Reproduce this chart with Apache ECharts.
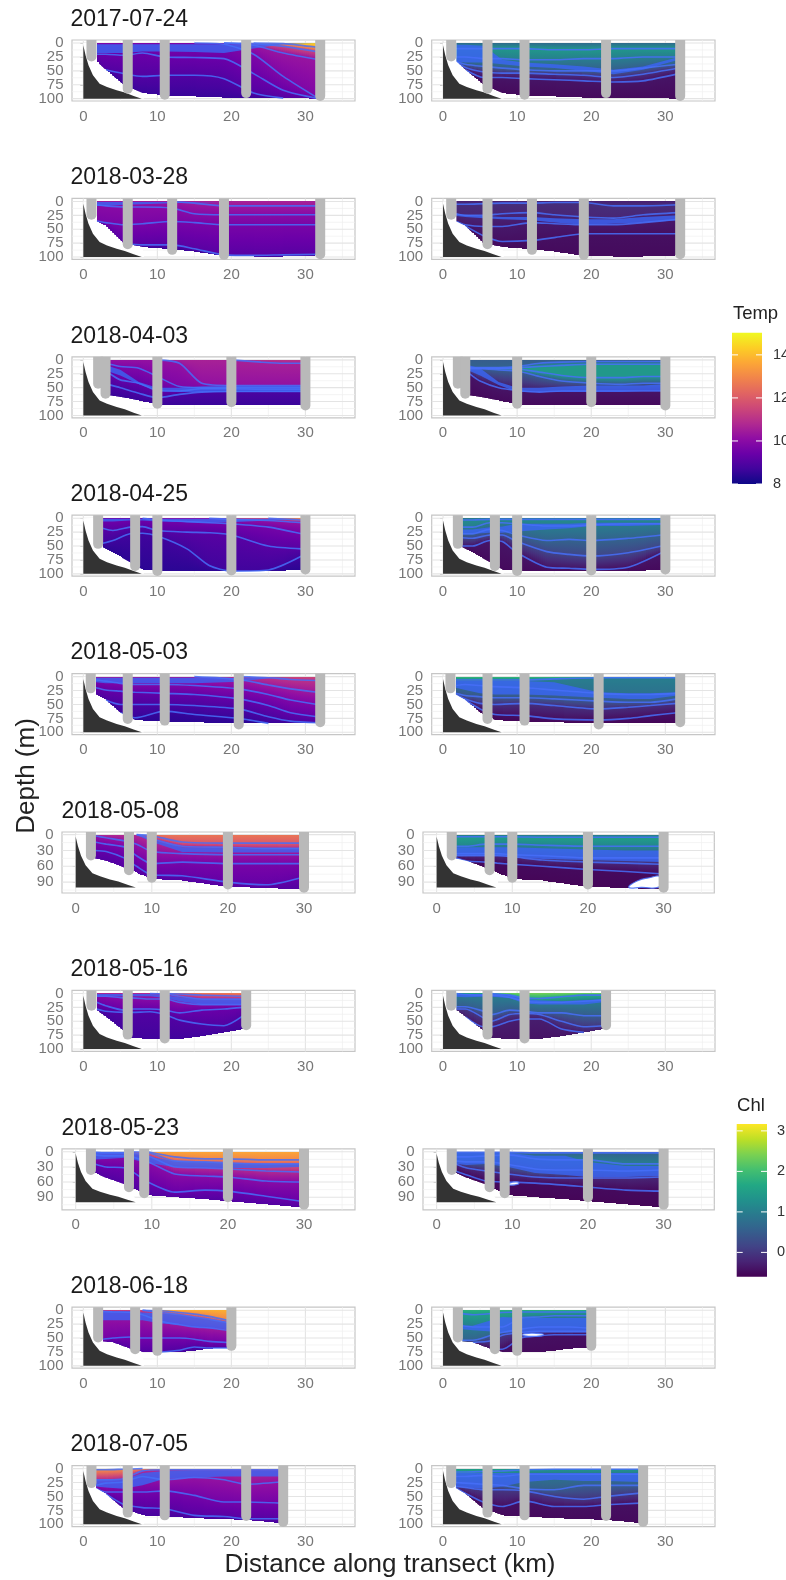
<!DOCTYPE html>
<html><head><meta charset="utf-8">
<style>html,body{margin:0;padding:0;background:#fff}#c{width:786px;height:1580px;filter:blur(0.45px)}</style>
<script src="https://cdn.jsdelivr.net/npm/echarts@6/dist/echarts.min.js"></script>
</head><body><div id="c"></div>
<script>
const dates=['2017-07-24','2018-03-28','2018-04-03','2018-04-25','2018-05-03','2018-05-08','2018-05-16','2018-05-23','2018-06-18','2018-07-05'];
const xTicks=[0,10,20,30], xMinor=[5,15,25,35];
const yTicks25=[0,25,50,75,100], yMinor25=[12.5,37.5,62.5,87.5];
const yTicks30=[0,30,60,90], yMinor30=[15,45,75,105];
const bathyX=[0,0.3,0.7,1.3,2.2,3.2,4.5,5.6,6.8,7.9];
const bathyD=[4,22,40,58,73,79,85,89,95,100];

// stations (grey casts): distance and deepest reading
const st0x=[1.1,6,11,22,32], st0d=[33,91,102,99,104];
const st1x=[1.1,6,12,19,32], st1d=[33,86,96,105,104];
const st2x=[2,3,10,20,30], st2d=[52,70,88,85,91];
const st3x=[2,7,10,20,30], st3d=[55,95,104,103,101];
const st4x=[1,6,11,21,32], st4d=[30,85,88,95,91];
const st5x=[2,7,10,20,30], st5d=[49,77,91,104,110];
const st6x=[1.1,6,11,22], st6d=[31,83,90,66];
const st7x=[2,7,9,20,30], st7d=[46,80,92,100,115];
const st8x=[2,7,10,20], st8d=[58,79,82,73];
const st9x=[1.1,6,11,22,27], st9d=[35,88,93,94,105];

// section columns and the bottom of sampled water
const xs0=[1.8,3,5.5,8,11,15,19,23,27,31.8], bot0=[33,48,76,90,94,96,98,98,99,100];
const xs1=[1.8,3,5.5,8,12,15,19,23,27,31.8], bot1=[36,44,76,82,86,90,98,99,99,97];
const xs2=[3.6,5,7.5,10,13,16,20,24,27,29.6], bot2=[64,67,73,80,82,82,82,82,82,82];
const xs3=[2.6,4,6.3,8,10,14,17,20,25,29.5], bot3=[52,62,79,92,95,95,95,95,95,93];
const xs4=[1.7,3,5,7,11,15,21,25,28,31.6], bot4=[32,42,65,78,81,82,84,84,83,83];
const xs5=[2.5,4,6.5,8,10,14,20,25,29.5], bot5=[45,50,63,72,84,87,99,101,104];
const xs6=[1.8,3,5.5,6.5,9,11,13,16,19,21.6], bot6=[30,42,68,80,82,82,82,77,70,64];
const xs7=[2.5,4,6.5,9.5,13,17,20,25,29.6], bot7=[42,52,65,86,90,94,98,104,110];
const xs8=[2.6,4,6.5,8,10.5,13,15,17,19.5], bot8=[56,58,70,75,75,75,73,69,68];
const xs9=[1.7,3,5.4,8,11,15,19,22,26.6], bot9=[35,45,72,84,86,89,91,92,98];

// temperature: value sequence from surface to bottom, depth of each inner contour, dense contour band
const T0v=[14.5,13.5,11.5,10.3,9.8,9.4,9,8.6];
const T0d=[[0,0,0,0,0,0,0,0,1,8],[0,0,0,0,0,0,0,1,6,16],[0,0,0,0,0,0,0,4,18,30],[0,0,0,0,0,0,2,20,60,100],[20,20,22,18,25,26,28,55,85,100],[55,55,55,60,58,58,64,90,100,100]];
const T0b=[[2,2,2,2,2,2,2,2,1,1],[18,18,18,15,15,16,18,10,2,1]];
const T1v=[10.6,10.4,10,9.7,9.1,8.6];
const T1d=[[0,0,0,0,0,3,8,8,8,8],[6,8,10,10,12,22,24,24,24,24],[35,38,42,40,36,38,42,42,42,42],[88,76,76,78,78,85,96,97,96,95]];
const T1b=[[1,1,1,1,1,1,1,1,1,1],[8,8,6,5,3,2,1,1,1,1]];
const T2v=[11,10.6,10.2,9.8,9.3,8.9,8.6];
const T2d=[[0,0,0,0,0,0,0,4,6,6],[0,0,0,0,6,42,46,46,46,46],[8,12,15,30,48,50,50,50,50,50],[25,36,42,55,56,52,52,53,53,53],[45,50,60,68,62,58,57,57,57,57]];
const T2b=[[12,18,40,50,50,48,47,47,47,47],[22,28,44,56,58,58,58,58,58,58]];
const T3v=[13.5,12,10.2,9.6,9.1,8.7,8.4];
const T3d=[[0,0,0,0,0,0,0,0,0,3],[0,0,0,0,0,0,0,2,4,8],[0,0,0,0,3,6,8,10,16,28],[18,22,16,15,22,25,26,30,50,55],[45,40,28,27,32,55,85,95,93,68]];
const T3b=[[1,1,1,1,1,1,1,1,1,1],[6,6,4,4,6,7,8,7,4,1]];
const T4v=[11.5,11,10.4,9.8,9.3,8.9,8.6,8.4];
const T4d=[[0,0,0,0,0,0,0,2,5,7],[0,0,0,0,0,0,5,15,22,28],[6,8,12,14,14,16,22,32,42,50],[20,24,26,28,30,32,40,52,65,72],[42,48,50,50,50,52,58,72,80,83],[50,60,70,74,62,68,75,84,83,83]];
const T4b=[[2,2,2,2,2,2,3,2,1,1],[10,12,12,12,12,12,9,3,1,1]];
const T5v=[12.6,12,10.8,10.2,9.7,9.3,9];
const T5d=[[0,0,0,0,2,14,16,16,16],[0,0,0,0,8,22,24,26,26],[2,6,12,18,32,36,38,38,38],[14,18,24,40,55,52,55,55,55],[30,32,45,60,76,78,90,95,82]];
const T5b=[[0,0,0,0,10,24,26,26,26],[0,0,0,0,14,33,34,34,34]];
const T6v=[12.8,12,10.8,10,9.4,9,8.7];
const T6d=[[0,0,0,0,0,0,1,3,4,5],[0,0,0,0,0,1,5,10,10,10],[5,5,8,8,10,10,16,20,20,20],[16,22,30,28,28,30,35,30,28,25],[28,32,34,34,33,38,48,55,58,40]];
const T6b=[[1,1,1,1,1,3,7,10,10,10],[5,5,5,5,5,8,14,20,20,20]];
const T7v=[13.6,13,12,10.8,10,9.4,9];
const T7d=[[0,0,0,0,10,14,14,16,16],[0,0,0,2,18,20,22,24,24],[1,2,2,8,30,32,34,38,40],[6,8,8,20,44,48,50,58,60],[24,30,32,60,80,76,78,88,98]];
const T7b=[[0,0,0,10,18,20,22,24,24],[15,14,12,22,30,32,32,32,30]];
const T8v=[13.8,13,11.5,10.4,9.6,9,8.7];
const T8d=[[0,0,0,0,1,4,7,11,18],[0,0,0,0,4,8,12,16,22],[2,3,4,8,20,26,30,32,36],[52,50,48,50,50,50,52,56,58],[56,58,70,75,75,72,66,68,68]];
const T8b=[[2,2,2,4,6,8,12,16,22],[18,18,18,18,24,26,30,32,34]];
const T9v=[13.8,13,10.8,10.2,9.6,9.1,8.8];
const T9d=[[2,2,1,0,0,0,0,0,0],[20,20,18,4,2,2,2,2,2],[30,26,24,14,20,16,20,28,24],[42,42,42,42,40,48,60,60,62],[35,45,64,70,72,84,86,90,90]];
const T9b=[[20,20,20,8,4,3,3,3,3],[32,34,36,30,18,16,14,14,14]];

// chlorophyll: same structure
const C0v=[0.7,1.4,1,0.5,-0.1,-0.4,-0.5];
const C0d=[[10,10,10,10,10,12,12,10,10,10],[25,25,28,28,30,30,28,28,25,25],[35,38,42,45,48,50,50,50,45,38],[38,44,52,54,54,56,58,62,56,45],[45,55,62,62,64,66,68,70,68,55]];
const C0b=[[3,3,5,30,35,38,42,48,42,25],[33,35,35,38,42,45,50,56,48,30]];
const C1v=[-0.3,-0.1,-0.2,-0.35,-0.45,-0.5];
const C1d=[[5,5,4,3,3,2,2,8,8,6],[22,25,25,22,20,24,28,30,24,20],[40,42,45,45,38,40,42,42,38,32],[60,55,62,72,70,65,58,58,58,58]];
const C1b=[[22,24,26,28,28,30,32,32,28,25],[26,28,30,32,34,38,42,40,38,34]];
const C2v=[0.5,0.6,1.4,1.4,0.5,-0.4,-0.5];
const C2d=[[14,14,14,12,6,4,3,3,3,3],[15,15,15,14,12,10,8,8,8,8],[15,15,15,16,22,28,32,32,30,30],[16,16,18,20,30,38,42,44,42,42],[25,38,50,55,58,56,56,56,56,56]];
const C2b=[[10,15,40,50,50,48,46,46,46,44],[20,28,45,58,58,58,58,58,56,56]];
const C3v=[0.8,1.2,1,0.6,0.2,-0.4,-0.5];
const C3d=[[3,3,2,2,2,2,2,2,2,2],[16,16,8,8,10,14,14,12,10,10],[28,28,20,22,30,40,38,40,36,30],[35,36,30,30,42,60,65,68,62,50],[50,50,40,42,62,88,90,92,88,62]];
const C3b=[[20,20,16,15,10,10,10,8,8,8],[28,28,26,26,24,20,18,14,14,12]];
const C4v=[1.9,1,0.8,0.4,-0.1,-0.45,-0.55];
const C4d=[[6,6,6,6,6,4,2,2,2,2],[16,14,16,18,20,24,30,32,32,30],[30,34,36,38,38,40,44,46,46,40],[33,40,48,50,48,52,58,55,52,48],[35,44,58,68,70,76,78,75,70,65]];
const C4b=[[8,8,8,8,8,10,28,30,30,28],[20,24,30,32,32,34,38,40,40,34]];
const C5v=[0.9,1.5,1.1,0.4,-0.2,-0.5,-0.55];
const C5d=[[4,4,4,4,4,5,5,5,5],[22,22,18,18,18,20,22,22,22],[36,36,36,36,38,40,44,44,44],[40,40,40,40,42,48,52,54,56],[44,50,52,54,56,60,66,70,74]];
const C5b=[[24,24,24,24,24,26,28,30,30],[40,40,40,40,42,46,48,50,52]];
const C5holeX=[25.4,26.5,28,29.6,29.6,27], C5holeD=[100,88,82,80,98,100];
const C6v=[2.4,1.8,1,0.5,0,-0.3,-0.4];
const C6d=[[0,0,0,0,3,8,9,6,3,3],[0,2,3,3,7,14,16,16,14,12],[24,24,32,38,30,32,35,35,40,40],[28,28,44,50,38,36,38,50,60,58],[30,42,60,60,50,46,46,64,70,64]];
const C6b=[[1,1,1,1,2,10,12,14,12,10],[6,7,6,6,8,18,20,20,20,16]];
const C7v=[0.5,0.6,1,0.5,-0.2,-0.5,-0.55];
const C7d=[[1,1,1,1,2,2,2,2,2],[10,10,8,6,14,16,16,24,24],[18,20,20,25,34,36,36,38,36],[24,32,38,44,50,52,52,52,50],[38,46,58,60,62,66,70,76,78]];
const C7b=[[2,2,2,2,8,8,20,28,28],[24,26,24,30,42,46,50,50,48]];
const C7holeX=[9.6,10.8,10.8,9.6], C7holeD=[62,60,64,66];
const C8v=[1.8,1.5,1,0.6,0,-0.45,-0.5];
const C8d=[[6,8,6,4,3,3,3,3,3],[28,30,30,30,14,12,10,10,10],[54,54,45,40,34,30,30,30,32],[56,58,55,45,40,38,38,38,38],[56,58,70,70,50,46,44,44,44]];
const C8b=[[28,28,18,12,14,14,14,14,14],[34,36,38,40,40,40,40,40,40]];
const C8holeX=[10.7,12,13.6,12], C8holeD=[44,41,44,47];
const C9v=[1.5,1.3,0.9,0.5,0,-0.45,-0.5];
const C9d=[[6,6,5,4,2,1,1,1,1],[14,14,12,14,10,10,10,10,10],[25,26,28,30,36,38,30,30,30],[32,34,38,38,40,50,55,50,44],[34,44,60,68,58,68,68,65,62]];
const C9b=[[8,8,8,8,8,8,8,8,8],[32,34,36,32,24,20,22,22,24]];

const tempTicks=[8,10,12,14], chlTicks=[0,1,2,3];
const plasma=['#0d0887','#41049d','#6a00a8','#8f0da4','#b12a90','#cc4778','#e16462','#f1844b','#fca636','#fcce25','#f0f921'];
const viridis=['#440154','#482475','#414487','#355f8d','#2a788e','#21918c','#22a884','#44bf70','#7ad151','#bddf26','#fde725'];
const tRange=[8,15.03], cRange=[-0.6,3.17];

const allSt=[[st0x,st0d],[st1x,st1d],[st2x,st2d],[st3x,st3d],[st4x,st4d],[st5x,st5d],[st6x,st6d],[st7x,st7d],[st8x,st8d],[st9x,st9d]];
const allXs=[xs0,xs1,xs2,xs3,xs4,xs5,xs6,xs7,xs8,xs9], allBot=[bot0,bot1,bot2,bot3,bot4,bot5,bot6,bot7,bot8,bot9];
const allT=[[T0v,T0d,T0b],[T1v,T1d,T1b],[T2v,T2d,T2b],[T3v,T3d,T3b],[T4v,T4d,T4b],[T5v,T5d,T5b],[T6v,T6d,T6b],[T7v,T7d,T7b],[T8v,T8d,T8b],[T9v,T9d,T9b]];
const allC=[[C0v,C0d,C0b],[C1v,C1d,C1b],[C2v,C2d,C2b],[C3v,C3d,C3b],[C4v,C4d,C4b],[C5v,C5d,C5b,C5holeX,C5holeD],[C6v,C6d,C6b],[C7v,C7d,C7b,C7holeX,C7holeD],[C8v,C8d,C8b,C8holeX,C8holeD],[C9v,C9d,C9b]];

function rgb(h){return [parseInt(h.slice(1,3),16),parseInt(h.slice(3,5),16),parseInt(h.slice(5,7),16)];}
function colorAt(v,pal,r){
  let t=Math.max(0,Math.min(1,(v-r[0])/(r[1]-r[0])))*(pal.length-1);
  const i=Math.min(pal.length-2,Math.floor(t));t-=i;
  const a=rgb(pal[i]),b=rgb(pal[i+1]);
  return 'rgb('+a.map((c,k)=>Math.round(c+(b[k]-c)*t)).join(',')+')';
}
const LINE='rgba(70,110,248,0.85)', BLUE='rgba(58,100,243,0.82)';
const FONT='Liberation Sans';
const series=[],grid=[],xAxis=[],yAxis=[],title=[];

function addPanel(ai,row,col,field,pal,range){
  const wide=(row===5||row===7);
  const top=40+158.4*row, h=61;
  const left=col===0?(wide?62:72):(wide?423:431.7);
  const right=col===0?355:(wide?714.3:715);
  const yMin=row===5?-5:row===7?-6:-5.5, yMax=row===5?110.6:row===7?115:104.2;
  const xMin=wide?-1.8:-1.53, xMax=36.7;
  const yT=wide?yTicks30:yTicks25, yM=wide?yMinor30:yMinor25;
  grid.push({left:left,top:top,width:right-left,height:h,show:true,borderColor:'#c6c6c6',borderWidth:1.2,backgroundColor:'#fff',outerBoundsMode:'none'});
  xAxis.push({type:'value',gridIndex:ai,min:xMin,max:xMax,axisLine:{show:false},splitLine:{show:false},
    axisTick:{show:true,length:3,lineStyle:{color:'#c0c0c0'},customValues:xTicks},
    axisLabel:{customValues:xTicks,showMinLabel:true,showMaxLabel:true,color:'#777',fontFamily:FONT,fontSize:15,margin:8}});
  yAxis.push({type:'value',gridIndex:ai,inverse:true,min:yMin,max:yMax,axisLine:{show:false},splitLine:{show:false},
    axisTick:{show:true,length:3,lineStyle:{color:'#c0c0c0'},customValues:yT},
    axisLabel:{show:false}});
  const base={type:'custom',xAxisIndex:ai,yAxisIndex:ai,silent:true,animation:false};
  // depth tick labels, tightly packed so they are placed one by one on the axis scale
  series.push({...base,z:9,clip:false,data:yT.map(v=>[v]),renderItem(p,api){
    const v=api.value(0),y=api.coord([0,v])[1];
    return {type:'text',style:{text:String(v),x:p.coordSys.x-8.5,y:y,textAlign:'right',textVerticalAlign:'middle',fill:'#777',font:'15px "Liberation Sans"'}};
  }});
  // grid lines
  const gl=[...xMinor.map(x=>[x,null,1]),...xTicks.map(x=>[x,null,2]),...yM.map(y=>[null,y,1]),...yT.map(y=>[null,y,2])];
  series.push({...base,z:1,data:gl.map((g,i)=>[i]),renderItem(p,api){
    const g=gl[api.value(0)],cs=p.coordSys,w=g[2]===2?1.1:0.7,c=g[2]===2?'#e4e4e4':'#efefef';
    if(g[0]!==null){const x=api.coord([g[0],0])[0];return {type:'line',shape:{x1:x,y1:cs.y,x2:x,y2:cs.y+cs.height},style:{stroke:c,lineWidth:w}};}
    const y=api.coord([0,g[1]])[1];return {type:'line',shape:{x1:cs.x,y1:y,x2:cs.x+cs.width,y2:y},style:{stroke:c,lineWidth:w}};
  }});
  const xs=allXs[row],bot=allBot[row],V=field[0],D=field[1],B=field[2];
  const stack=i=>{let prev=0;const out=[0];D.forEach(d=>{const v=Math.max(prev,Math.min(d[i],bot[i]));out.push(v);prev=v;});out.push(bot[i]);return out;};
  // colour field: thin pixel-aligned strips, each with one gradient through the contours of its columns
  series.push({...base,z:2,data:xs.slice(0,-1).map((x,i)=>[i]),renderItem(p,api){
    const i=api.value(0),a=stack(i),b=stack(i+1),ch=[];
    const x0=api.coord([xs[i],0])[0],x1=api.coord([xs[i+1],0])[0],yTop=api.coord([0,0])[1];
    const n=Math.max(1,Math.round((x1-x0)/2));
    for(let k=0;k<n;k++){
      const t=(k+0.5)/n,dep=a.map((v,j)=>v+(b[j]-v)*t),total=dep[dep.length-1];
      const yBot=Math.round(api.coord([0,total])[1]),stops=[];
      for(let j=0;j<dep.length-1;j++){
        const d0=dep[j],d1=dep[j+1];
        if(d1<=d0)continue;
        const v0=V[j],v1=V[j+1];
        [0,0.5,1].forEach(s=>stops.push({offset:Math.min(1,(d0+(d1-d0)*s)/total),color:colorAt(v0+(v1-v0)*s,pal,range)}));
      }
      const sx=Math.round(x0+(x1-x0)*k/n),ex=Math.round(x0+(x1-x0)*(k+1)/n),ty=Math.round(yTop);
      ch.push({type:'rect',shape:{x:sx,y:ty,width:ex-sx,height:yBot-ty},
        style:{fill:{type:'linear',x:0,y:0,x2:0,y2:1,colorStops:stops}}});
    }
    return {type:'group',children:ch};
  }});
  // dense contour band
  series.push({...base,z:3,data:[[0]],renderItem(p,api){
    const pts=[];
    xs.forEach((x,i)=>pts.push(api.coord([x,Math.min(B[0][i],bot[i])])));
    for(let i=xs.length-1;i>=0;i--)pts.push(api.coord([xs[i],Math.min(B[1][i],bot[i])]));
    return {type:'polygon',shape:{points:pts,smooth:0},style:{fill:BLUE}};
  }});
  // contours
  D.forEach(d=>{
    const ok=d.map((v,i)=>v>0&&v<bot[i]);
    const dat=xs.map((x,i)=>(ok[i]||ok[i-1]||ok[i+1])?[x,Math.min(d[i],bot[i])]:[x,null]);
    series.push({type:'line',xAxisIndex:ai,yAxisIndex:ai,z:4,silent:true,animation:false,showSymbol:false,symbol:'none',smooth:0.25,
      lineStyle:{color:LINE,width:1.6},data:dat});
  });
  // missing-data holes
  if(field[3]){
    series.push({...base,z:5,data:[[0]],renderItem(p,api){
      return {type:'polygon',shape:{points:field[3].map((x,i)=>api.coord([x,field[4][i]])),smooth:0.5},style:{fill:'#fff',stroke:LINE,lineWidth:1.2}};
    }});
  }
  // white mask under the section
  series.push({...base,z:6,data:[[0]],renderItem(p,api){
    const pts=[api.coord([0,0]),api.coord([xs[0],-1])];
    xs.forEach((x,i)=>{if(x<=8)pts.push(api.coord([x,bot[i]]));});
    pts.push(api.coord([8.2,100]),api.coord([0,100]));
    return {type:'polygon',shape:{points:pts},style:{fill:'#fff'}};
  }});
  // seabed
  series.push({...base,z:7,data:[[0]],renderItem(p,api){
    const pts=bathyX.map((x,i)=>api.coord([x,bathyD[i]]));pts.push(api.coord([0,100]));
    return {type:'polygon',shape:{points:pts},style:{fill:'#333'}};
  }});
  // stations
  const st=allSt[row];
  series.push({...base,z:8,data:st[0].map((x,i)=>[x,st[1][i]]),renderItem(p,api){
    const c=api.coord([api.value(0),api.value(1)]),cs=p.coordSys,w=10,b=Math.min(c[1],cs.y+cs.height+0.5);
    return {type:'rect',shape:{x:c[0]-w/2,y:cs.y,width:w,height:b-cs.y,r:[0,0,w/2,w/2]},style:{fill:'#b9b9b9'}};
  }});
}

for(let r=0;r<10;r++){
  addPanel(r*2,r,0,allT[r],plasma,tRange);
  addPanel(r*2+1,r,1,allC[r],viridis,cRange);
  const wide=(r===5||r===7);
  title.push({text:dates[r],left:wide?61.5:70.5,top:40+158.4*r-32,padding:0,textStyle:{fontFamily:FONT,fontSize:23,fontWeight:'normal',color:'#1a1a1a'}});
}

function addBar(ai,left,top,w,h,range,ticks,pal,margin){
  grid.push({left:left,top:top,width:w,height:h,show:false,outerBoundsMode:'none'});
  xAxis.push({type:'value',gridIndex:ai,min:0,max:1,show:false});
  yAxis.push({type:'value',gridIndex:ai,position:'right',min:range[0],max:range[1],axisLine:{show:false},splitLine:{show:false},
    axisTick:{show:false},axisLabel:{customValues:ticks,showMinLabel:true,showMaxLabel:true,color:'#333',fontFamily:FONT,fontSize:14.5,margin:margin}});
  series.push({type:'custom',xAxisIndex:ai,yAxisIndex:ai,silent:true,animation:false,z:2,data:[[0]],renderItem(p,api){
    const cs=p.coordSys;
    return {type:'rect',shape:{x:cs.x,y:cs.y,width:cs.width,height:cs.height},style:{fill:{type:'linear',x:0,y:1,x2:0,y2:0,colorStops:pal.map((c,i)=>({offset:i/(pal.length-1),color:c}))}}};
  }});
  series.push({type:'custom',xAxisIndex:ai,yAxisIndex:ai,silent:true,animation:false,z:3,data:ticks.map(t=>[t]),renderItem(p,api){
    const y=api.coord([0,api.value(0)])[1],cs=p.coordSys,l=6;
    return {type:'group',children:[
      {type:'line',shape:{x1:cs.x,y1:y,x2:cs.x+l,y2:y},style:{stroke:'#fff',lineWidth:1}},
      {type:'line',shape:{x1:cs.x+cs.width-l,y1:y,x2:cs.x+cs.width,y2:y},style:{stroke:'#fff',lineWidth:1}}]};
  }});
}
addBar(20,732,332.7,30,151.3,tRange,tempTicks,plasma,11);
addBar(21,736.7,1124,30.3,152.7,cRange,chlTicks,viridis,10);

const txt=(t,x,y,s,o)=>Object.assign({type:'text',x:x,y:y,style:{text:t,font:s+'px "Liberation Sans"',fill:'#222',textAlign:'center',textVerticalAlign:'middle'}},o||{});
const chart=echarts.init(document.getElementById('c'),null,{renderer:'canvas',width:786,height:1580});
chart.setOption({animation:false,backgroundColor:'#fff',title,grid,xAxis,yAxis,series,
  graphic:[
    txt('Distance along transect (km)',390,1565,26),
    txt('Depth (m)',27,776,26,{rotation:Math.PI/2}),
    txt('Temp',755.5,314,18.5),
    txt('Chl',751,1106,18.5)
  ]});
</script></body></html>
